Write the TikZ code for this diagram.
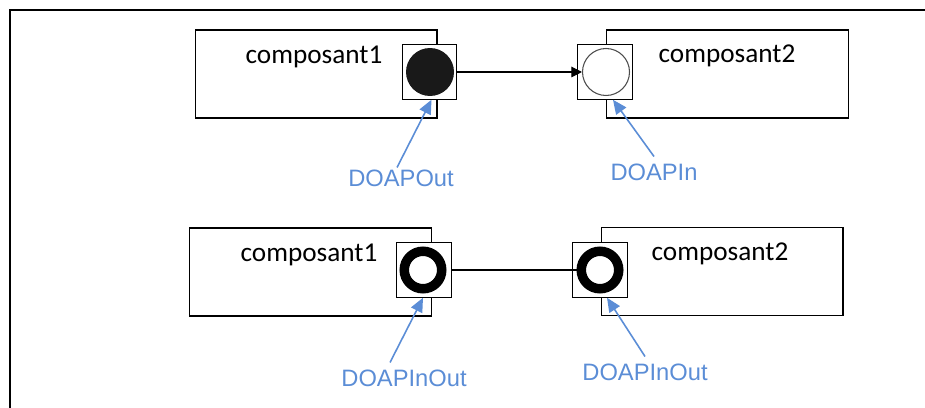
\documentclass[tikz,border=0pt]{standalone}
\usepackage{fontspec}
\setmainfont{Carlito}
\newfontfamily\lblfont{Liberation Sans}
\usetikzlibrary{arrows.meta}

\definecolor{doapblue}{RGB}{91,141,214}

\tikzset{
  compbox/.style={draw, line width=0.6pt, minimum width=4.84cm, minimum height=1.76cm, inner sep=0pt},
  portbox/.style={draw, fill=white, line width=0.6pt, minimum size=1.09cm, inner sep=0pt},
  compname/.style={font=\fontsize{15.5}{18}\selectfont, inner sep=1pt},
  outdot/.style={circle, fill=black!90, minimum size=0.96cm, inner sep=0pt},
  indot/.style={circle, draw=black!70, line width=0.6pt, minimum size=0.94cm, inner sep=0pt},
  inoutdot/.style={circle, draw=black, line width=5.4pt, minimum size=0.75cm, inner sep=0pt},
  doaplabel/.style={text=doapblue, font=\lblfont\fontsize{13.5}{16}\selectfont, inner sep=1pt},
  doaparrow/.style={draw=doapblue, line width=0.9pt, -{Triangle[length=8pt,width=7pt]}}
}

\begin{document}
\begin{tikzpicture}[x=0.02cm, y=-0.02cm]
  \useasboundingbox (0,0) rectangle (925,408);
  \draw[line width=1.4pt] (10,408) -- (10,10) -- (925,10);

  % premier cas : sortie vers entree
  \node[compbox] (comp1) at (316,74) {};
  \node[compbox] (comp2) at (727.5,74) {};
  \node[compname] (name1) at (314,57) {composant1};
  \node[compname] (name2) at (727,56) {composant2};
  \node[portbox] (p1) at (429.5,72) {};
  \node[portbox] (p2) at (605,72) {};
  \node[outdot] (c1) at (430,72) {};
  \node[indot] (c2) at (606,72) {};
  \draw[line width=0.6pt, -{Triangle[length=6pt,width=6pt]}] (p1.east) -- (c2.west);

  \node[doaplabel] (lout) at (401,178) {DOAPOut};
  \node[doaplabel] (lin) at (654,172) {DOAPIn};
  \draw[doaparrow] ([xshift=-0.08cm]lout.north) -- ([xshift=0.04cm]p1.south);
  \draw[doaparrow] ([yshift=0.1cm]lin.north) -- ([xshift=0.16cm]p2.south);

  % second cas : entree/sortie des deux cotes
  \node[compbox] (comp3) at (310.5,272) {};
  \node[compbox] (comp4) at (722,271.5) {};
  \node[compname] (name3) at (309,255) {composant1};
  \node[compname] (name4) at (720,254) {composant2};
  \node[portbox] (p3) at (424,270) {};
  \node[portbox] (p4) at (600,270) {};
  \node[inoutdot] (c3) at (423,270) {};
  \node[inoutdot] (c4) at (600,270) {};
  \draw[line width=0.6pt] (p3.east) -- (c4.west);

  \node[doaplabel] (lio1) at (404,378) {DOAPInOut};
  \node[doaplabel] (lio2) at (645,372) {DOAPInOut};
  \draw[doaparrow] ([xshift=-0.28cm, yshift=0.1cm]lio1.north) -- ([xshift=-0.02cm]p3.south);
  \draw[doaparrow] ([yshift=0.1cm]lio2.north) -- ([xshift=0.14cm]p4.south);
\end{tikzpicture}
\end{document}
